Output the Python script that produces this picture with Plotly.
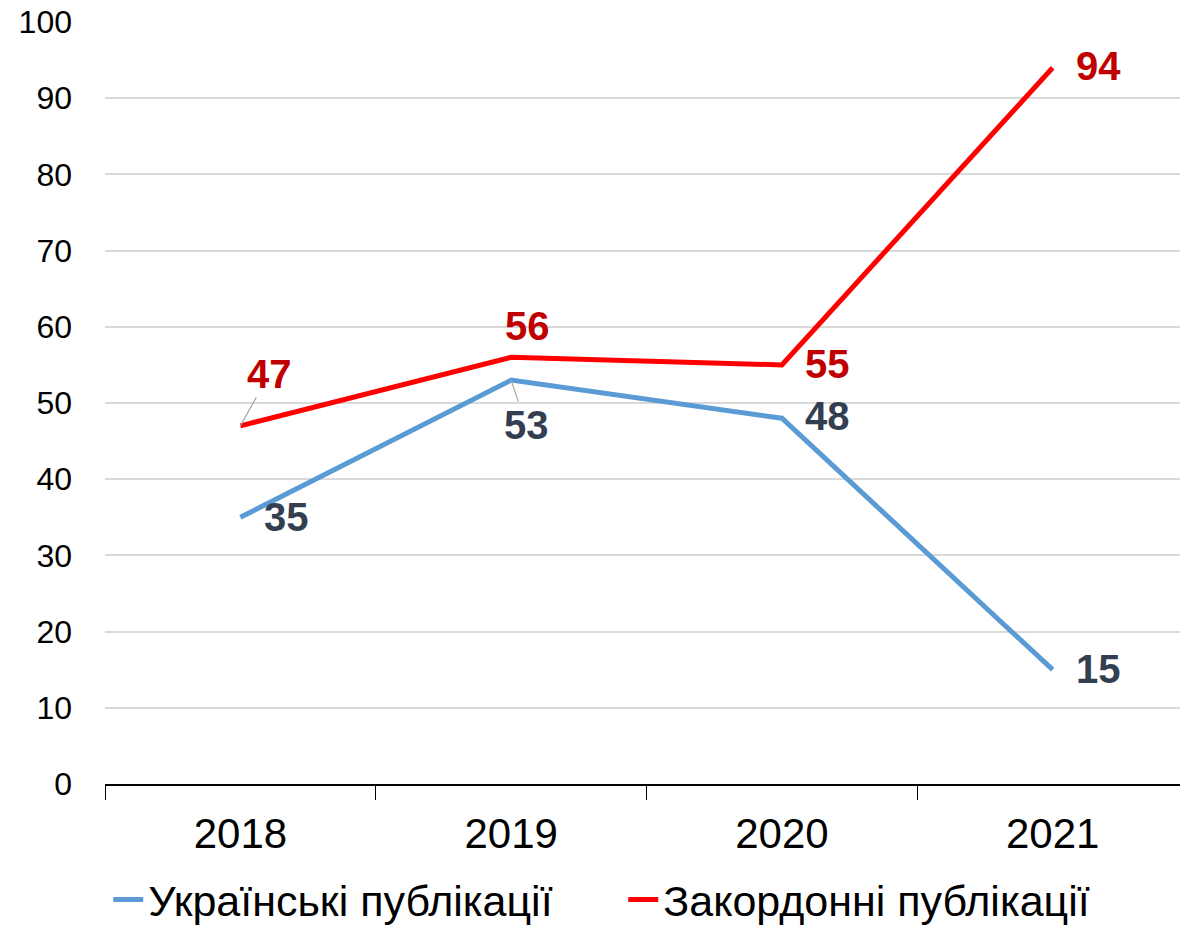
import plotly.graph_objects as go

years = ["2018", "2019", "2020", "2021"]
ukr = [35, 53, 48, 15]
foreign = [47, 56, 55, 94]

blue = "#5B9BD5"
red = "#FF0000"
blue_lbl = "#333F50"
red_lbl = "#C00000"
fnt = "Liberation Sans, Arial, sans-serif"

fig = go.Figure()
fig.add_trace(go.Scatter(x=years, y=ukr, mode="lines", name="Українські публікації",
                         line=dict(color=blue, width=5)))
fig.add_trace(go.Scatter(x=years, y=foreign, mode="lines", name="Закордонні публікації",
                         line=dict(color=red, width=5)))

# data labels: (category index, value, colour, dx, dy, leader line?)
labels = [
    (0, ukr[0], blue_lbl, 46, 0, False),
    (1, ukr[1], blue_lbl, 15, 45, True),
    (2, ukr[2], blue_lbl, 46, -2, False),
    (3, ukr[3], blue_lbl, 46, -1, False),
    (0, foreign[0], red_lbl, 29, -52, True),
    (1, foreign[1], red_lbl, 16, -31, False),
    (2, foreign[2], red_lbl, 46, -1, False),
    (3, foreign[3], red_lbl, 46, -2, False),
]
for i, y, col, dx, dy, leader in labels:
    if leader:
        fig.add_annotation(x=i, y=y, xref="x", yref="y", text="<b>%d</b>" % y,
                           showarrow=True, arrowhead=0, arrowwidth=1.2,
                           arrowcolor="#A6A6A6", ax=dx, ay=dy,
                           font=dict(size=40, color=col, family=fnt))
    else:
        fig.add_annotation(x=i, y=y, xref="x", yref="y", text="<b>%d</b>" % y,
                           showarrow=False, xshift=dx, yshift=-dy,
                           font=dict(size=40, color=col, family=fnt))

# page body has an 8px margin, so the figure is shifted by 8px
fig.update_layout(
    width=1180, height=926,
    margin=dict(l=97, r=0, t=14, b=149),
    plot_bgcolor="white", paper_bgcolor="white",
    font=dict(family=fnt, color="black"),
    showlegend=True,
    legend=dict(orientation="h", x=0.003, xanchor="left", y=-0.197, yanchor="bottom",
                font=dict(size=43), tracegroupgap=0, entrywidth=470),
    xaxis=dict(type="category", range=[-0.5, 3.5], showgrid=False, automargin=False,
               showline=True, linecolor="black", linewidth=1.5,
               ticks="outside", tickson="boundaries", ticklen=14, tickcolor="black",
               tickfont=dict(size=42), ticklabelstandoff=12),
    yaxis=dict(range=[0, 100], dtick=10, showgrid=True, gridcolor="#D9D9D9", gridwidth=1.5,
               automargin=False, zeroline=False, showline=False, tickfont=dict(size=32),
               ticklabelstandoff=32, ticklabeloverflow="allow"),
)

fig.write_html("out.html")
